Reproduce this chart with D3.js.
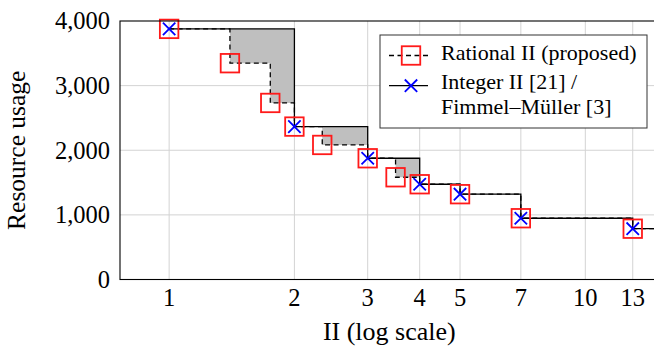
<!DOCTYPE html>
<html>
<head>
<meta charset="utf-8">
<script src="https://cdn.jsdelivr.net/npm/d3@7"></script>
<style>
  html, body { margin: 0; padding: 0; background: #fff; }
  svg { display: block; }
  text { font-family: 'Liberation Serif', 'Times New Roman', serif; fill: #000; }
</style>
</head>
<body>
<svg id="chart" width="654" height="346"></svg>
<script>
// ---- data ----
const xTickValues = [1, 2, 3, 4, 5, 7, 10, 13];
const yTickValues = [0, 1000, 2000, 3000, 4000];
const integerII = [1, 2, 3, 4, 5, 7, 13];
const integerUsage = [3878, 2366, 1876, 1474, 1320, 948, 786];
const rationalII = [1, 1.4, 1.75, 2, 2.333, 3, 3.5, 4, 5, 7, 13];
const rationalUsage = [3878, 3347, 2732, 2366, 2082, 1876, 1582, 1474, 1320, 948, 786];
const seriesNames = ["Rational II (proposed)", "Integer II [21] /", "Fimmel\u2013M\u00fcller [3]"];
const xLabel = "II (log scale)";
const yLabel = "Resource usage";

// ---- layout ----
const svg = d3.select("#chart");
const pLeft = 120, pTop = 21, pBottom = 279.5, pRight = 658.6;
const x = d3.scaleLog().domain([0.762, 15]).range([pLeft, pRight]);
const y = d3.scaleLinear().domain([0, 4000]).range([pBottom, pTop]);

svg.append("defs").append("clipPath").attr("id", "plotclip")
  .append("rect").attr("x", pLeft).attr("y", pTop).attr("width", pRight - pLeft).attr("height", pBottom - pTop);

// grid
const grid = svg.append("g");
grid.selectAll("line.vx").data(xTickValues).join("line")
  .attr("x1", d => x(d)).attr("x2", d => x(d)).attr("y1", pTop).attr("y2", pBottom)
  .attr("stroke", "#d3d3d3").attr("stroke-width", 1);
grid.selectAll("line.hy").data(yTickValues.slice(1, -1)).join("line")
  .attr("x1", pLeft).attr("x2", pRight).attr("y1", d => y(d)).attr("y2", d => y(d))
  .attr("stroke", "#d3d3d3").attr("stroke-width", 1);

// data helpers
const intPts = integerII.map((v, i) => [v, integerUsage[i]]);
const ratPts = rationalII.map((v, i) => [v, rationalUsage[i]]);
const xEnd = x.domain()[1];
const intExt = intPts.concat([[xEnd, intPts[intPts.length - 1][1]]]);
const ratExt = ratPts.concat([[xEnd, ratPts[ratPts.length - 1][1]]]);
function intAt(v) {
  let val = intPts[0][1];
  for (const p of intPts) if (p[0] <= v) val = p[1];
  return val;
}

const plot = svg.append("g").attr("clip-path", "url(#plotclip)");

// shaded area between the step curves
const area = d3.area().curve(d3.curveStepAfter)
  .x(d => x(d[0])).y0(d => y(d[1])).y1(d => y(intAt(d[0])));
plot.append("path").datum(ratPts).attr("d", area).attr("fill", "#bfbfbf");

const line = d3.line().curve(d3.curveStepAfter).x(d => x(d[0])).y(d => y(d[1]));
plot.append("path").datum(ratExt).attr("d", line)
  .attr("fill", "none").attr("stroke", "#000").attr("stroke-width", 1.3).attr("stroke-dasharray", "5,3.5");
plot.append("path").datum(intExt).attr("d", line)
  .attr("fill", "none").attr("stroke", "#000").attr("stroke-width", 1.3);

// markers
const sq = 18.5;
svg.append("g").selectAll("rect").data(ratPts).join("rect")
  .attr("x", d => x(d[0]) - sq / 2).attr("y", d => y(d[1]) - sq / 2)
  .attr("width", sq).attr("height", sq)
  .attr("fill", "none").attr("stroke", "#ff1a1a").attr("stroke-width", 1.8);
const xs = 6.2;
const crosses = svg.append("g");
intPts.forEach(d => {
  const cx = x(d[0]), cy = y(d[1]);
  crosses.append("path")
    .attr("d", `M${cx - xs},${cy - xs}L${cx + xs},${cy + xs}M${cx - xs},${cy + xs}L${cx + xs},${cy - xs}`)
    .attr("stroke", "#0000ff").attr("stroke-width", 1.8).attr("fill", "none");
});

// frame
svg.append("rect").attr("x", pLeft).attr("y", pTop).attr("width", pRight - pLeft).attr("height", pBottom - pTop)
  .attr("fill", "none").attr("stroke", "#000").attr("stroke-width", 1.1);

// tick labels
svg.append("g").selectAll("text").data(xTickValues).join("text")
  .attr("x", d => x(d)).attr("y", 306).attr("text-anchor", "middle")
  .attr("font-size", 24.5).text(d => d);
svg.append("g").selectAll("text").data(yTickValues).join("text")
  .attr("x", 110).attr("y", d => y(d)).attr("dy", "0.34em").attr("text-anchor", "end")
  .attr("font-size", 24.5).text(d => d3.format(",")(d));

// axis labels
svg.append("text").attr("x", (pLeft + pRight) / 2).attr("y", 340).attr("text-anchor", "middle")
  .attr("font-size", 26).text(xLabel);
svg.append("text").attr("transform", `translate(25,${(pTop + pBottom) / 2}) rotate(-90)`)
  .attr("text-anchor", "middle").attr("font-size", 25.5).text(yLabel);

// legend
const lg = svg.append("g");
lg.append("rect").attr("x", 380).attr("y", 35).attr("width", 267).attr("height", 93)
  .attr("fill", "#fff").attr("stroke", "#333").attr("stroke-width", 1);
lg.append("line").attr("x1", 389).attr("x2", 428).attr("y1", 55.5).attr("y2", 55.5)
  .attr("stroke", "#000").attr("stroke-width", 1.3).attr("stroke-dasharray", "5,3.5");
lg.append("rect").attr("x", 411 - sq / 2).attr("y", 55.5 - sq / 2).attr("width", sq).attr("height", sq)
  .attr("fill", "none").attr("stroke", "#ff1a1a").attr("stroke-width", 1.8);
lg.append("line").attr("x1", 389).attr("x2", 428).attr("y1", 85.7).attr("y2", 85.7)
  .attr("stroke", "#000").attr("stroke-width", 1.3);
lg.append("path")
  .attr("d", `M${411 - xs},${85.7 - xs}L${411 + xs},${85.7 + xs}M${411 - xs},${85.7 + xs}L${411 + xs},${85.7 - xs}`)
  .attr("stroke", "#0000ff").attr("stroke-width", 1.8);
lg.append("text").attr("x", 441).attr("y", 60).attr("font-size", 22).text(seriesNames[0]);
lg.append("text").attr("x", 441).attr("y", 88.5).attr("font-size", 22).text(seriesNames[1]);
lg.append("text").attr("x", 441).attr("y", 113.5).attr("font-size", 22).text(seriesNames[2]);
</script>
</body>
</html>
